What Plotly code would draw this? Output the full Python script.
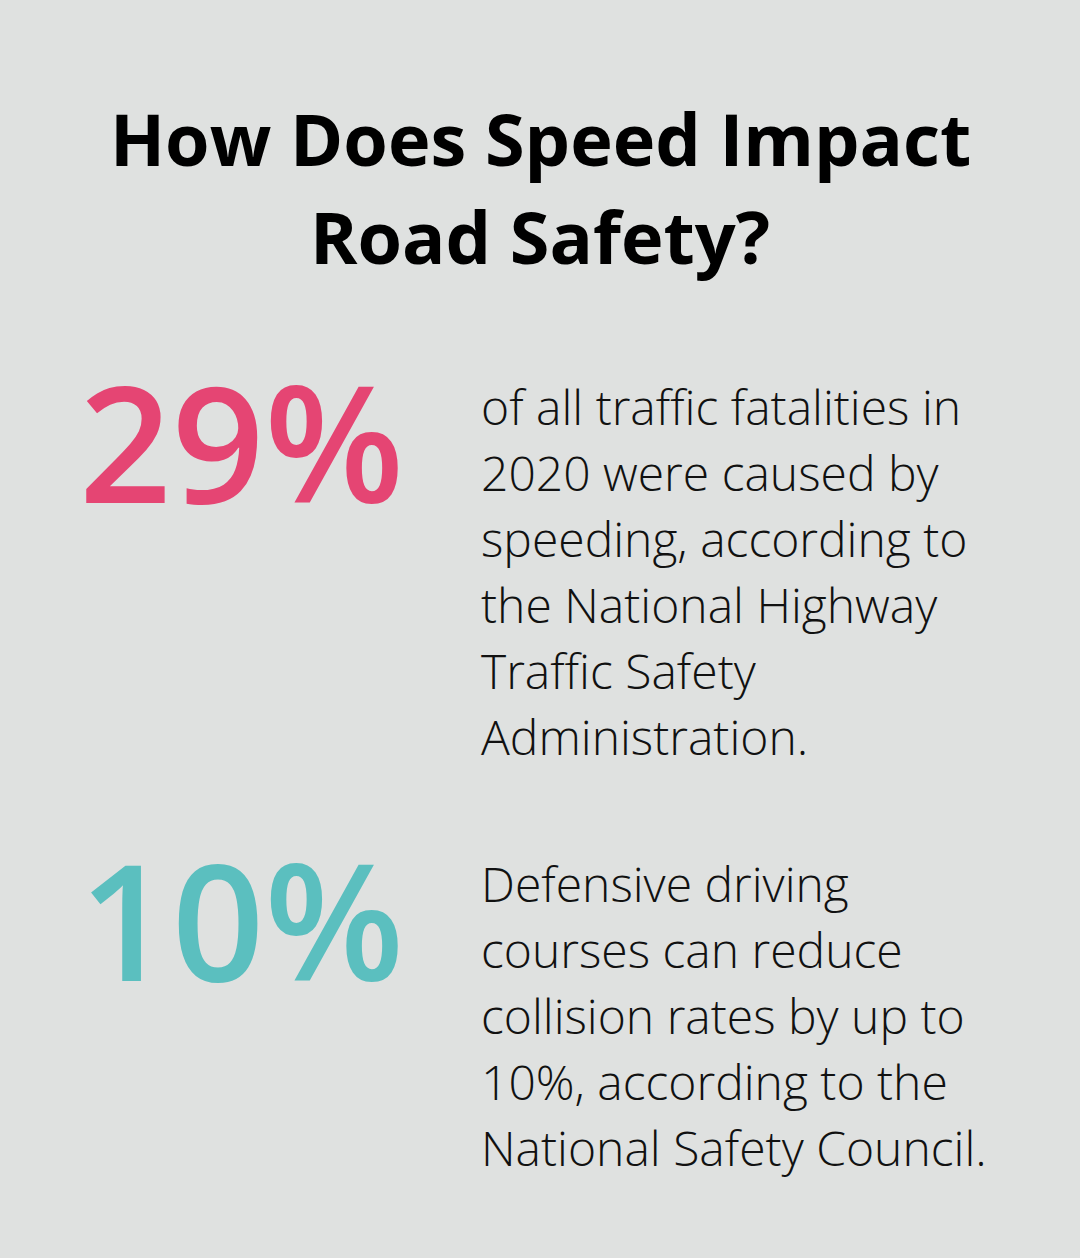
import plotly.graph_objects as go

title_lines = ["How Does Speed Impact", "Road Safety?"]
stat_values = ["29%", "10%"]
stat_colors = ["#e54573", "#5bbfbf"]
stat_texts = [
    ["of all traffic fatalities in", "2020 were caused by", "speeding, according to",
     "the National Highway", "Traffic Safety", "Administration."],
    ["Defensive driving", "courses can reduce", "collision rates by up to",
     "10%, according to the", "National Safety Council."],
]

W, H = 1080, 1258
BG = "#dfe1e0"

fig = go.Figure()
fig.add_trace(go.Scatter(x=[0, W], y=[0, H], mode="markers", marker=dict(opacity=0), hoverinfo="skip", showlegend=False))

ann = []
title_y = [138, 236]
for t, y in zip(title_lines, title_y):
    ann.append(dict(x=540, y=y, text=t, showarrow=False, xanchor="center", yanchor="middle",
                    font=dict(family="Open Sans", size=72, color="#000000", weight=700)))

stat_y = [440, 918]
text_top = [406, 883]
line_gap = 66
for v, c, sy, lines, ty in zip(stat_values, stat_colors, stat_y, stat_texts, text_top):
    ann.append(dict(x=241, y=sy, text=v, showarrow=False, xanchor="center", yanchor="middle",
                    font=dict(family="Open Sans", size=162, color=c, weight=600)))
    for i, ln in enumerate(lines):
        ann.append(dict(x=479, y=ty + i * line_gap, text=ln, showarrow=False, xanchor="left", yanchor="middle",
                        font=dict(family="Open Sans", size=48, color="#111111", weight=300)))

fig.update_layout(
    width=W, height=H, margin=dict(l=0, r=0, t=0, b=0),
    paper_bgcolor=BG, plot_bgcolor=BG,
    xaxis=dict(range=[0, W], visible=False, fixedrange=True),
    yaxis=dict(range=[H, 0], visible=False, fixedrange=True),
    annotations=ann, showlegend=False,
)
fig.write_html(
    "out.html",
    config={"displayModeBar": False},
    post_script="document.body.style.margin='0';document.body.style.background='%s';document.body.style.overflow='hidden';" % BG,
)
